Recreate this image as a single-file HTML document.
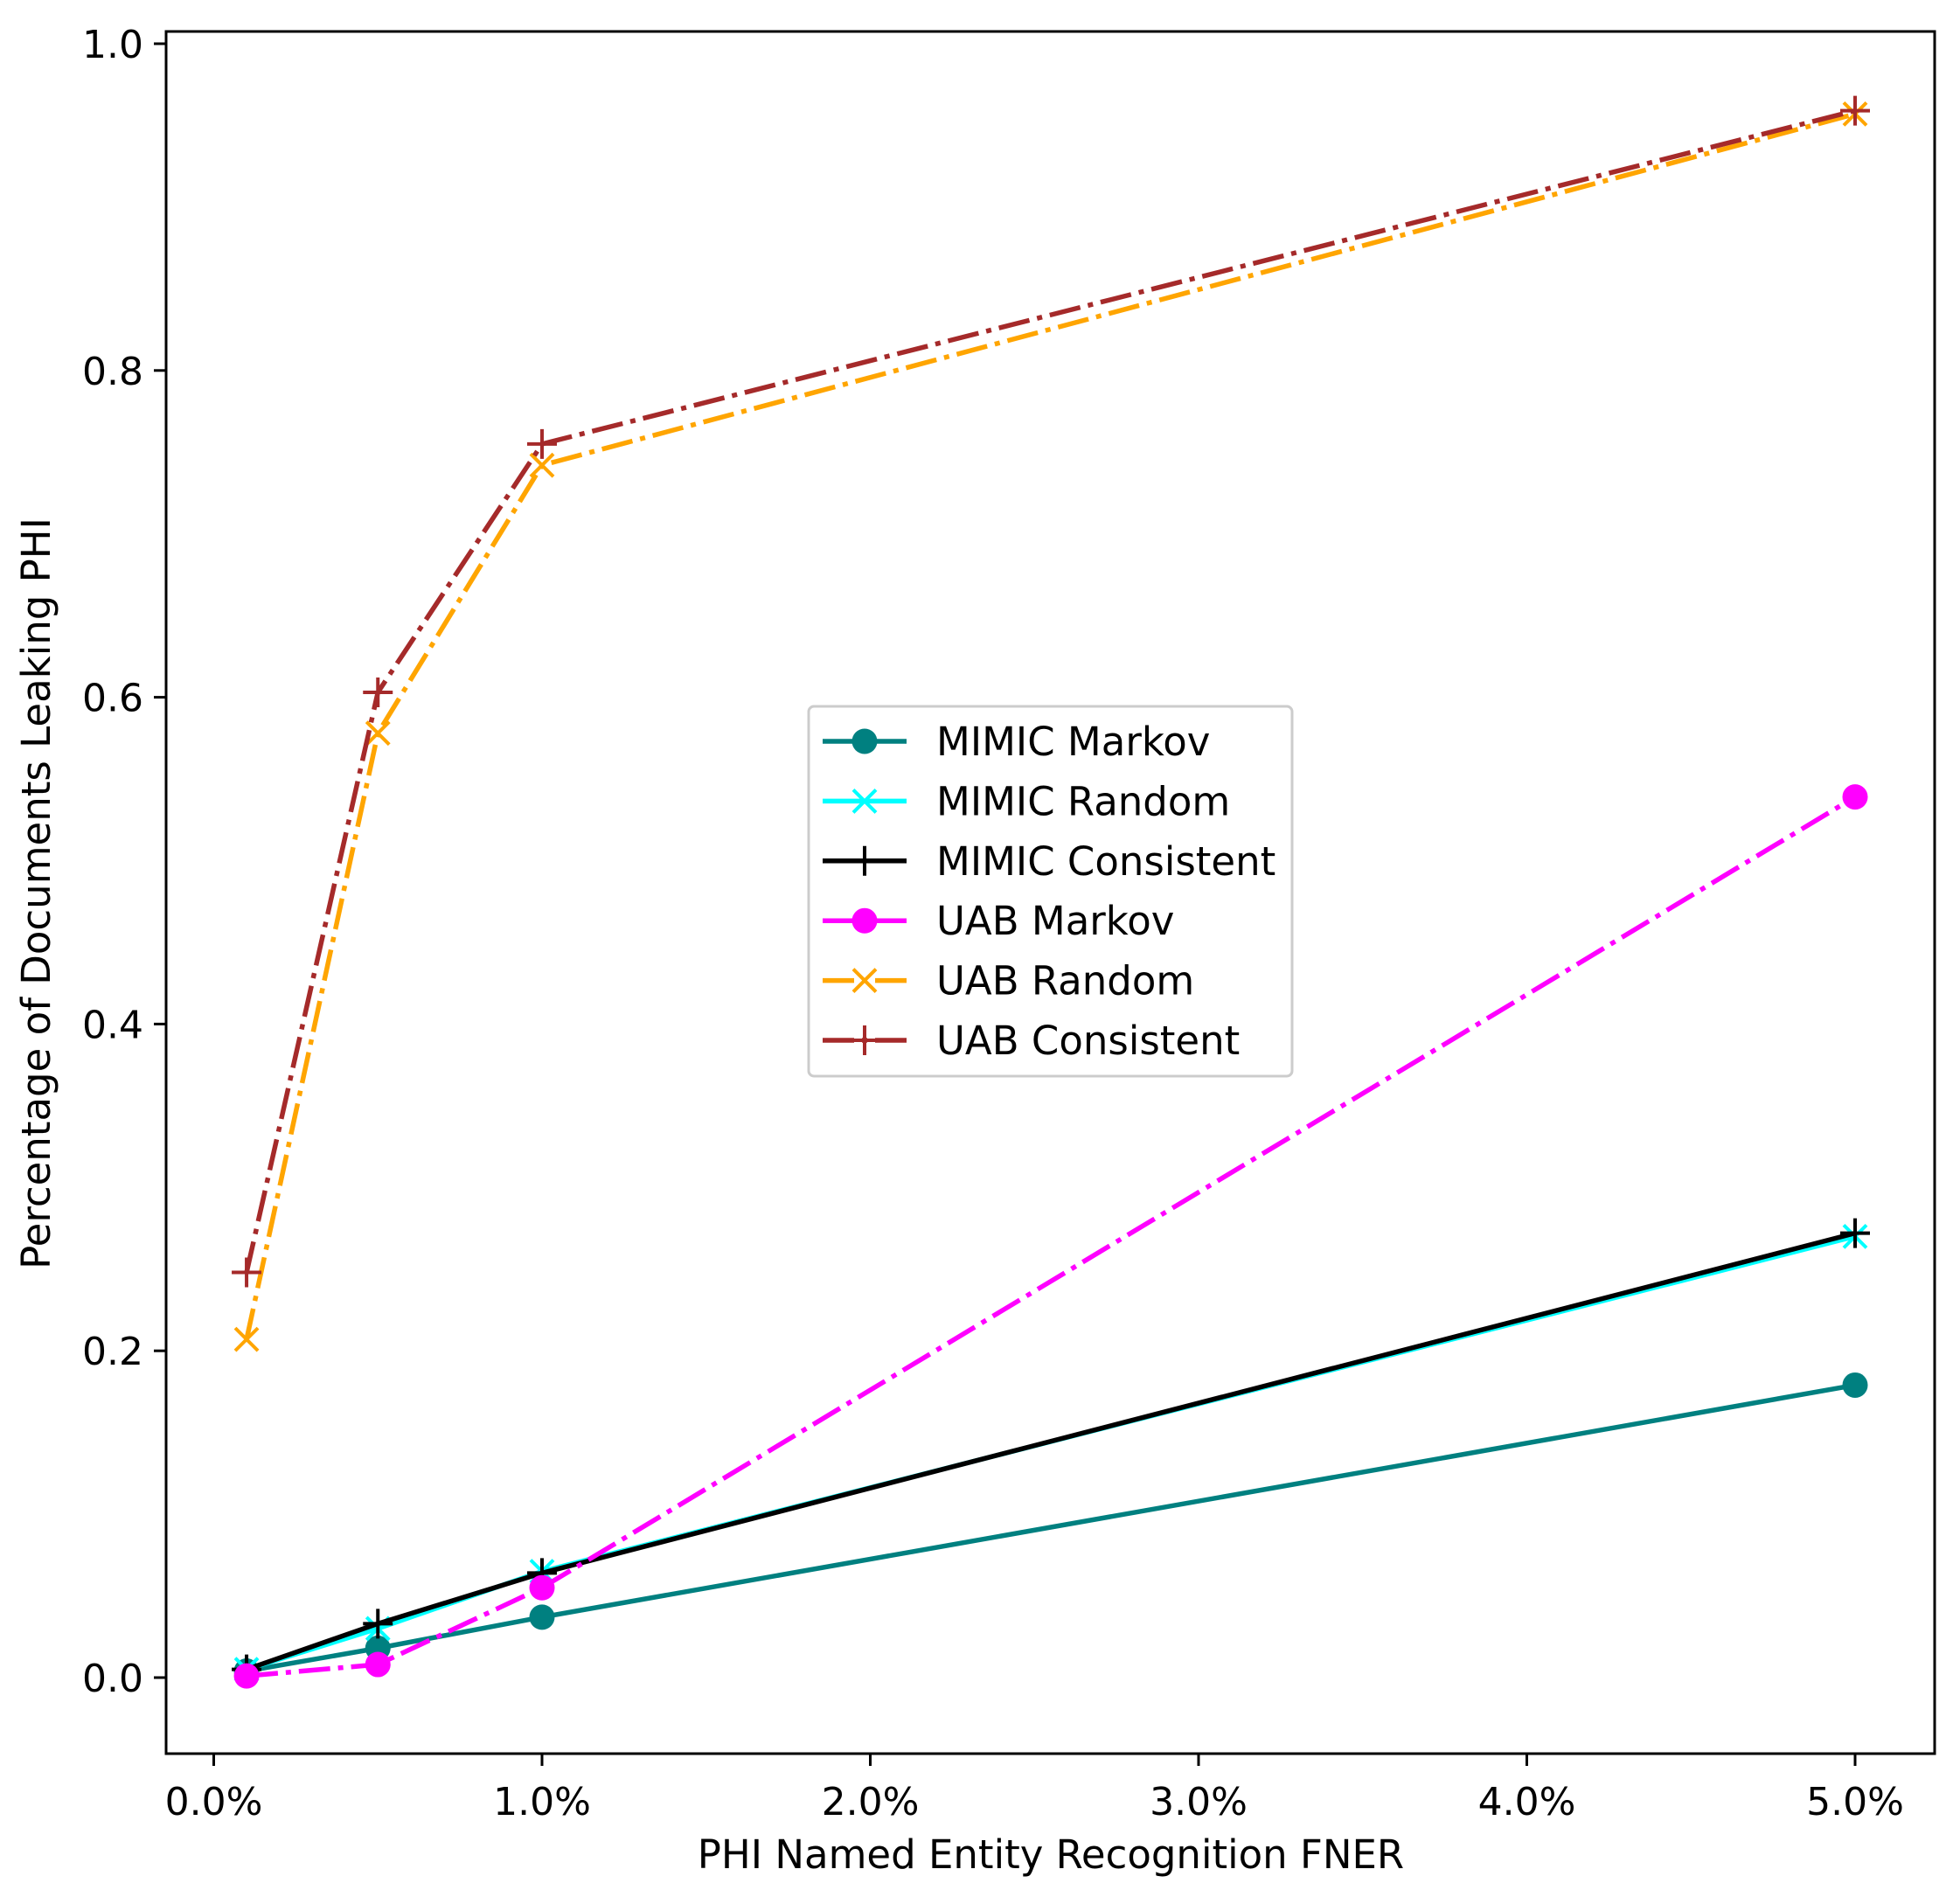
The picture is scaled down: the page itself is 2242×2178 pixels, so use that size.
<!DOCTYPE html>
<html><head><meta charset="utf-8"><style>
body{margin:0;background:#fff}
text{font-family:"DejaVu Sans","Liberation Sans",sans-serif;fill:#000}
</style></head><body>
<svg id="chart" width="2242" height="2173" viewBox="0 0 2242 2173" xmlns="http://www.w3.org/2000/svg">
<rect x="0" y="0" width="2242" height="2173" fill="#fff"/>
<g id="plot"></g>
<rect x="190" y="36" width="2023" height="1970" fill="none" stroke="#000" stroke-width="3"/>
<g id="axes"></g>
<text x="1202" y="2137" font-size="45" text-anchor="middle">PHI Named Entity Recognition FNER</text>
<text transform="translate(57,1022) rotate(-90)" font-size="45" text-anchor="middle">Percentage of Documents Leaking PHI</text>
<g id="legend"></g>
</svg>
<script>
const xValues=[0.1,0.5,1.0,5.0];
const mimicMarkov=[0.004,0.018,0.037,0.179];
const mimicRandom=[0.005,0.030,0.065,0.270];
const mimicConsistent=[0.005,0.033,0.064,0.272];
const uabMarkov=[0.001,0.008,0.055,0.539];
const uabRandom=[0.207,0.578,0.742,0.957];
const uabConsistent=[0.248,0.603,0.755,0.959];
const xTicks=[0,1,2,3,4,5];
const xTickLabels=["0.0%","1.0%","2.0%","3.0%","4.0%","5.0%"];
const yTicks=[0,0.2,0.4,0.6,0.8,1.0];
const yTickLabels=["0.0","0.2","0.4","0.6","0.8","1.0"];
const seriesNames=["MIMIC Markov","MIMIC Random","MIMIC Consistent","UAB Markov","UAB Random","UAB Consistent"];

const NS="http://www.w3.org/2000/svg";
function X(v){return 244.5+(2122-244.5)*v/5;}
function Y(v){return 1919-(1919-50)*v;}
function mk(tag,attrs,parent){const e=document.createElementNS(NS,tag);for(const k in attrs)e.setAttribute(k,attrs[k]);parent.appendChild(e);return e;}
const DD="36,9,6,9";
const LW=5.5;
const styles=[
 {data:mimicMarkov,color:"#008080",dash:null,marker:"o"},
 {data:mimicRandom,color:"#00ffff",dash:null,marker:"x"},
 {data:mimicConsistent,color:"#000000",dash:null,marker:"+"},
 {data:uabMarkov,color:"#ff00ff",dash:DD,marker:"o"},
 {data:uabRandom,color:"#ffa500",dash:DD,marker:"x"},
 {data:uabConsistent,color:"#a52a2a",dash:DD,marker:"+"}
];
function marker(g,type,cx,cy,color){
 let m;
 if(type==="o"){m=mk("circle",{cx:cx,cy:cy,r:14.5,fill:color},g);}
 else if(type==="x"){m=mk("path",{d:`M${cx-13},${cy-13}L${cx+13},${cy+13}M${cx-13},${cy+13}L${cx+13},${cy-13}`,stroke:color,"stroke-width":4,fill:"none"},g);}
 else {m=mk("path",{d:`M${cx-17},${cy}L${cx+17},${cy}M${cx},${cy-17}L${cx},${cy+17}`,stroke:color,"stroke-width":4,fill:"none"},g);}
 return m;
}
const plot=document.getElementById("plot");
styles.forEach((s,i)=>{
 const g=mk("g",{},plot);
 
 
 const pts=s.data.map((v,j)=>X(xValues[j])+","+Y(v)).join(" ");
 const a={points:pts,fill:"none",stroke:s.color,"stroke-width":LW,"stroke-linejoin":"round"};
 if(s.dash)a["stroke-dasharray"]=s.dash;
 const l=mk("polyline",a,g);
 
 
 s.data.forEach((v,j)=>{
  const m=marker(g,s.marker,X(xValues[j]),Y(v),s.color);
  
  
 });
});
const axes=document.getElementById("axes");
xTicks.forEach((t,i)=>{
 const l=mk("line",{x1:X(t),x2:X(t),y1:2006,y2:2020,stroke:"#000","stroke-width":3},axes);
 
 
 const tx=mk("text",{x:X(t),y:2076,"font-size":44,"text-anchor":"middle"},axes);
 tx.textContent=xTickLabels[i];
 
 
});
yTicks.forEach((t,i)=>{
 const l=mk("line",{x1:176,x2:190,y1:Y(t),y2:Y(t),stroke:"#000","stroke-width":3},axes);
 
 
 const tx=mk("text",{x:164,y:Y(t)+16,"font-size":44,"text-anchor":"end"},axes);
 tx.textContent=yTickLabels[i];
 
 
});
const lg=document.getElementById("legend");


mk("rect",{x:925,y:808,width:553,height:423,rx:6,fill:"#fff","fill-opacity":0.8,stroke:"#ccc","stroke-width":3},lg);
styles.forEach((s,i)=>{
 const y=848+i*68.4;
 const g=mk("g",{},lg);
 
 
 const a={x1:941,x2:1037,y1:y,y2:y,stroke:s.color,"stroke-width":LW};
 if(s.dash)a["stroke-dasharray"]=DD;
 mk("line",a,g);
 marker(g,s.marker,989,y,s.color);
 const t=mk("text",{x:1071,y:y+16,"font-size":45},g);
 t.textContent=seriesNames[i];
});
</script>
</body></html>
